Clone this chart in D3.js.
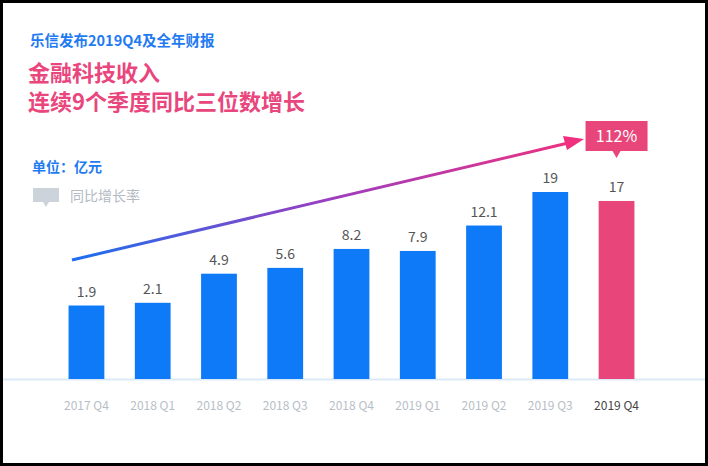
<!DOCTYPE html>
<html><head><meta charset="utf-8">
<script src="https://cdn.jsdelivr.net/npm/d3@7"></script>
<style>body{margin:0;background:#000}svg{display:block}</style>
</head><body>
<script>
const quarters = ["2017 Q4","2018 Q1","2018 Q2","2018 Q3","2018 Q4","2019 Q1","2019 Q2","2019 Q3","2019 Q4"];
const revenue = [1.9, 2.1, 4.9, 5.6, 8.2, 7.9, 12.1, 19, 17];
const yoyLabel = "112%";

const W = 708, H = 466, base = 379;
const font = "'Noto Sans CJK SC','Noto Sans',sans-serif";
const svg = d3.select("body").append("svg").attr("width", W).attr("height", H);
svg.append("rect").attr("x", 3).attr("y", 3).attr("width", W - 6).attr("height", H - 6).attr("fill", "#fff");

const x = d3.scaleBand().domain(quarters).range([52, 651]).paddingInner(0.46).paddingOuter(0.25);
const y = d3.scaleSqrt().domain([0, 19]).range([358, 192]);

// titles
svg.append("text").attr("x", 30).attr("y", 46).attr("fill", "#1f7bf2").attr("font-size", 14.5).attr("font-weight", 700).attr("font-family", font).text("乐信发布2019Q4及全年财报");
svg.append("text").attr("x", 28).attr("y", 81).attr("fill", "#e8467c").attr("font-size", 22).attr("font-weight", 700).attr("font-family", font).text("金融科技收入");
svg.append("text").attr("x", 28).attr("y", 110).attr("fill", "#e8467c").attr("font-size", 22).attr("font-weight", 700).attr("font-family", font).text("连续9个季度同比三位数增长");
svg.append("text").attr("x", 32).attr("y", 172).attr("fill", "#1f7bf2").attr("font-size", 14).attr("font-weight", 700).attr("font-family", font).text("单位：亿元");
svg.append("path").attr("d", "M33,188h26v14h-10l-3,5l-3,-5h-10z").attr("fill", "#cdd3da");
svg.append("text").attr("x", 70).attr("y", 201).attr("fill", "#b4bac2").attr("font-size", 14).attr("font-family", font).text("同比增长率");

// baseline
svg.append("line").attr("x1", 3).attr("x2", W - 3).attr("y1", base + 0.5).attr("y2", base + 0.5).attr("stroke", "#dbe9f8").attr("stroke-width", 2);

// bars
const last = quarters.length - 1;
svg.selectAll(".bar").data(revenue).join("rect")
  .attr("x", (d, i) => x(quarters[i])).attr("width", x.bandwidth())
  .attr("y", d => y(d)).attr("height", d => base - y(d))
  .attr("fill", (d, i) => i === last ? "#e8457a" : "#0e7af8");
svg.selectAll(".val").data(revenue).join("text")
  .attr("x", (d, i) => x(quarters[i]) + x.bandwidth() / 2).attr("y", d => y(d) - 9)
  .attr("text-anchor", "middle").attr("fill", "#555").attr("font-size", 14).attr("font-family", font).text(d => d);
svg.selectAll(".tick").data(quarters).join("text")
  .attr("x", d => x(d) + x.bandwidth() / 2).attr("y", 410)
  .attr("text-anchor", "middle").attr("font-size", 12).attr("font-family", font)
  .attr("fill", (d, i) => i === last ? "#444" : "#b7bec6").text(d => d);

// arrow
const defs = svg.append("defs");
const g = defs.append("linearGradient").attr("id", "ag").attr("gradientUnits", "userSpaceOnUse")
  .attr("x1", 72).attr("y1", 260).attr("x2", 580).attr("y2", 140);
g.append("stop").attr("offset", 0).attr("stop-color", "#1a6ff0");
g.append("stop").attr("offset", 0.5).attr("stop-color", "#9a3ec0");
g.append("stop").attr("offset", 1).attr("stop-color", "#f0307e");
svg.append("line").attr("x1", 72).attr("y1", 260).attr("x2", 566).attr("y2", 143.5).attr("stroke", "url(#ag)").attr("stroke-width", 3);
svg.append("path").attr("d", "M584,139 L563,136 L567,150 Z").attr("fill", "#f0307e");

// yoy label
const cx = x(quarters[last]) + x.bandwidth() / 2;
svg.append("path").attr("d", `M${cx - 31},121h62v30h-27l-4,7l-4,-7h-27z`).attr("fill", "#e8457a");
svg.append("text").attr("x", cx).attr("y", 142).attr("text-anchor", "middle").attr("fill", "#fff").attr("font-size", 16).attr("font-family", font).text(yoyLabel);
</script>
</body></html>
